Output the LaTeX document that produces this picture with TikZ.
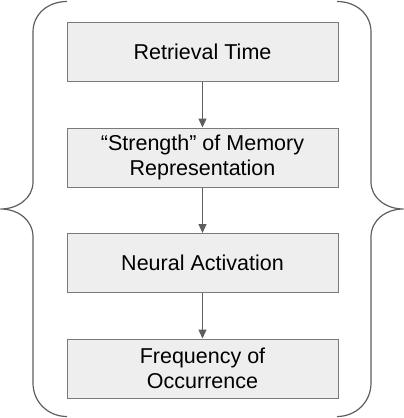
\documentclass[tikz,border=0pt]{standalone}
\usepackage{fontspec}
\setmainfont{Liberation Sans}
\usetikzlibrary{positioning,arrows.meta}
\definecolor{boxfill}{HTML}{EEEEEE}
\definecolor{boxline}{HTML}{7A7A7A}
\definecolor{linecol}{HTML}{5E5E5E}
\begin{document}
\begin{tikzpicture}[x=1pt, y=-1pt,
  stagebox/.style={draw=boxline, fill=boxfill, line width=1pt, minimum width=271pt, minimum height=59pt, align=center, inner sep=0pt, font=\fontsize{21.5}{25}\selectfont},
  flow/.style={draw=linecol, line width=1.2pt, -{Triangle[length=9pt,width=8pt]}},
  bracket/.style={draw=linecol, line width=1.2pt}]
\useasboundingbox (0,0) rectangle (404,418);
\node[stagebox] (retrieval) at (202.5,52) {Retrieval Time};
\node[stagebox, below=45.5pt of retrieval] (strength) {“Strength” of Memory\\Representation};
\node[stagebox, below=45.5pt of strength] (activation) {Neural Activation};
\node[stagebox, below=45.5pt of activation] (frequency) {Frequency of\\Occurrence};
\draw[flow] (retrieval) -- (strength);
\draw[flow] (strength) -- (activation);
\draw[flow] (activation) -- (frequency);
% left brace
\draw[bracket] (67,1.5) .. controls (48,1.5) and (33,14) .. (33,32) -- (33,182)
  .. controls (33,198) and (18,209) .. (0.5,209) .. controls (18,209) and (33,220) .. (33,237)
  -- (33,383) .. controls (33,402) and (48,416.5) .. (67,416.5);
% right brace
\draw[bracket] (337,1.5) .. controls (356,1.5) and (371,14) .. (371,32) -- (371,182)
  .. controls (371,198) and (386,209) .. (403.5,209) .. controls (386,209) and (371,220) .. (371,237)
  -- (371,383) .. controls (371,402) and (356,416.5) .. (337,416.5);
\end{tikzpicture}
\end{document}
